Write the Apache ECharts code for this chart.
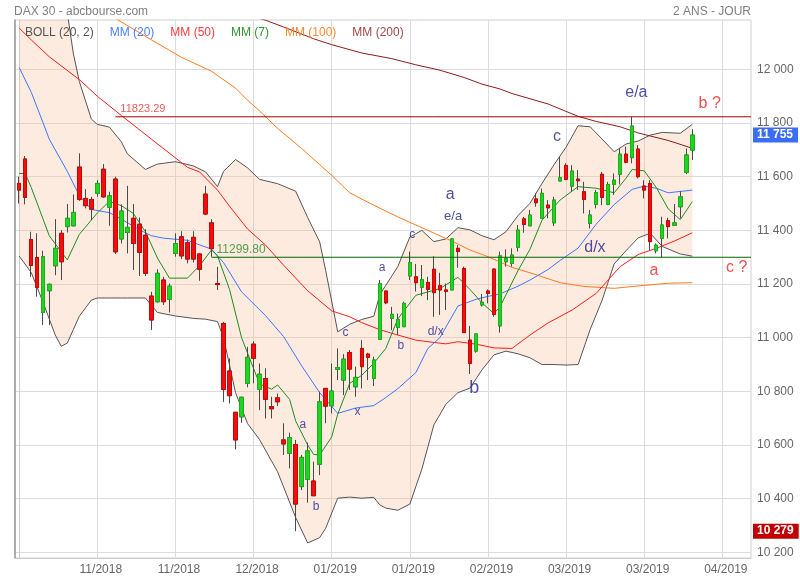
<!DOCTYPE html>
<html><head><meta charset="utf-8">
<script src="https://cdn.jsdelivr.net/npm/echarts@6/dist/echarts.min.js"></script>
<style>html,body{margin:0;padding:0;background:#fff}#c{width:800px;height:580px}</style>
</head><body><div id="c"></div>
<script>
// ---------- DATA ----------
// daily candles, index 0 = first visible session
const opens = [11575,11666,11366,11299,11094,11175,11268,11389,11414,11417,
11636,11519,11515,11538,11628,11486,11591,11368,11392,11445,
11423,11382,11155,11134,11215,11143,11314,11376,11354,11374,
11312,11535,11428,11202,11053,10876,10722,10705,10830,10976,
10807,10848,10743,10776,10619,10569,10602,10445,10472,10466,
10528,10811,10746,10882,10842,10945,10817,10960,10939,10848,
10994,11174,11072,11038,11041,11230,11227,11188,11206,11255,
11194,11178,11178,11333,11258,10991,10950,11122,11174,11256,
11044,11283,11277,11337,11443,11417,11517,11445,11494,11428,
11584,11642,11565,11591,11544,11426,11497,11609,11497,11571,
11609,11684,11671,11703,11565,11575,11324,11370,11436,11419,
11488,11616,11699];
const closes = [11550,11523,11269,11187,11302,11199,11333,11283,11445,11467,
11515,11492,11479,11575,11525,11529,11320,11472,11411,11351,
11318,11240,11066,11240,11134,11192,11351,11305,11293,11293,
11255,11461,11332,11198,10807,10784,10619,10778,10927,10923,
10864,10770,10735,10761,10604,10628,10380,10554,10578,10411,
10761,10745,10801,10889,10920,10883,10852,10892,10927,10917,
11202,11130,11087,11068,11128,11280,11205,11217,11180,11168,
11178,11172,11368,11321,11019,10904,11014,11132,11165,11087,
11305,11296,11308,11401,11422,11457,11503,11538,11484,11513,
11597,11590,11621,11585,11515,11457,11541,11523,11571,11587,
11684,11654,11789,11600,11550,11358,11345,11420,11414,11428,
11525,11681,11755];
const highs = [11600,11677,11395,11389,11324,11202,11442,11401,11498,11534,
11687,11554,11525,11587,11647,11544,11600,11497,11566,11498,
11448,11404,11171,11255,11227,11202,11389,11397,11366,11397,
11314,11566,11442,11264,11059,10923,10722,10780,10966,10987,
10904,10886,10780,10792,10681,10646,10619,10563,10609,10538,
10799,10811,10904,10960,10939,10954,10892,10991,10944,10929,
11215,11174,11115,11090,11134,11321,11275,11271,11227,11304,
11242,11202,11370,11345,11265,11044,11014,11163,11180,11256,
11321,11329,11333,11420,11450,11476,11538,11556,11513,11525,
11674,11650,11643,11625,11581,11476,11550,11618,11581,11612,
11705,11712,11823.29,11718,11587,11587,11351,11451,11447,11498,
11546,11705,11777];
const lows = [11500,11497,11227,11153,11047,11047,11233,11215,11392,11415,
11510,11482,11438,11525,11522,11417,11312,11351,11314,11252,
11230,11230,11029,11131,11122,11094,11302,11293,11277,11280,
11212,11457,11302,11178,10761,10755,10584,10683,10815,10830,
10730,10699,10699,10745,10563,10513,10279,10432,10385,10411,
10488,10681,10718,10842,10786,10805,10780,10811,10842,10820,
10994,11125,11028,11010,11041,11215,11172,11155,11140,11078,
11085,11103,11178,11261,11019,10865,10944,11116,11128,11078,
11019,11265,11265,11321,11391,11417,11488,11445,11445,11416,
11584,11587,11544,11550,11463,11407,11482,11494,11494,11532,
11571,11650,11650,11594,11519,11327,11314,11299,11370,11416,
11445,11610,11662];

// Bollinger (20,2) read at these session indices
const bandIdx = [0,2,4,6,7,8,9,10,12,13,15,17,18,21,23,26,29,31,33,34,36,38,40,43,46,48,50,51,53,55,57,59,60,61,63,65,67,69,71,73,75,77,79,81,83,85,87,89,91,93,95,97,99,101,103,105,107,110,112];
const bollUp = [12650,12620,12580,12460,12340,12212,12060,11955,11815,11795,11785,11730,11685,11627,11647,11656,11640,11618,11563,11620,11664,11633,11590,11574,11546,11448,11357,11250,11022,11050,11068,11080,11160,11195,11265,11375,11400,11358,11368,11410,11402,11380,11365,11395,11455,11501,11575,11645,11710,11790,11786,11740,11693,11722,11733,11755,11765,11762,11795];
const bollLow = [11304,11243,11130,11010,10968,10980,11030,11080,11140,11148,11148,11148,11148,11148,11094,11081,11072,11069,11060,11000,10795,10680,10620,10500,10330,10235,10255,10290,10402,10406,10402,10405,10377,10365,10357,10380,10510,10675,10752,10795,10812,10880,10936,10950,10940,10925,10900,10900,10898,10900,11030,11140,11275,11325,11372,11389,11340,11312,11304];

// moving averages read at these session indices
const ma20Idx = [0,2,4,5,8,10,12,15,17,20,22,24,28,30,32,34,37,41,44,47,50,53,56,59,61,63,66,68,70,73,76,78,80,83,85,88,90,93,96,99,102,104,106,108,112];
const ma20Val = [12007,11915,11799,11740,11620,11530,11478,11466,11442,11402,11380,11371,11363,11346,11330,11280,11171,11082,11004,10895,10795,10718,10738,10747,10777,10810,10870,10960,11000,11118,11143,11154,11163,11192,11215,11254,11288,11334,11423,11496,11553,11565,11557,11540,11550];
const ma7Idx = [0,1,2,4,5,8,10,13,15,17,19,21,23,25,28,30,32,33,35,37,40,42,43,45,46,48,49,50,52,53,55,57,59,61,63,66,70,73,75,77,79,80,81,83,85,87,90,93,96,99,101,102,104,106,108,110,112];
const ma7Val = [11612,11612,11560,11440,11380,11290,11385,11465,11508,11492,11463,11395,11297,11222,11222,11268,11327,11305,11180,11000,10828,10808,10824,10770,10690,10600,10565,10563,10630,10715,10830,10860,10905,10960,11070,11158,11183,11225,11180,11130,11090,11115,11160,11250,11330,11438,11513,11563,11557,11540,11595,11627,11622,11560,11480,11440,11507];
const ma50Idx = [0,2,5,10,13,17,22,28,30,33,35,38,41,44,48,52,55,57,60,63,66,68,71,73,76,79,82,85,88,92,96,100,103,106,109,112];
const ma50Val = [12154,12110,12047,11962,11900,11828,11740,11635,11618,11550,11490,11405,11345,11270,11175,11100,11078,11056,11030,11010,10991,10985,10977,10985,10976,10962,10960,11010,11055,11103,11165,11265,11310,11333,11360,11391];
const ma100Idx = [0,10,16,22,27,32,36,38,40,43,47,52,55,58,63,68,72,75,78,82,85,90,94,99,103,108,112];
const ma100Val = [12430,12280,12190,12110,12045,11993,11930,11885,11845,11780,11705,11605,11540,11505,11450,11400,11360,11327,11302,11262,11242,11205,11191,11184,11193,11203,11205];
const ma200Idx = [0,30,41,44,49,52,57,62,66,70,74,77,80,82,88,93,96,100,103,108,112];
const ma200Val = [12470,12260,12183,12158,12114,12092,12061,12040,12017,11997,11970,11945,11927,11910,11871,11825,11806,11786,11763,11735,11706];

// horizontal levels
const resistance = 11823.29, resistanceFrom = 16;
const support = 11299.80, supportFrom = 32;

// axis ticks
const xTickIdx = [13,26,39,52,65,78,91,104,117];
const xTickLabels = ['11/2018','11/2018','12/2018','01/2019','01/2019','02/2019','03/2019','03/2019','04/2019'];
const yTicks = [10200,10400,10600,10800,11000,11200,11400,11600,11800,12000];

// wave annotations
const annoText = ['a','b','c','x','a','b','c','d/x','e/a','a','b','c','d/x','e/a','b ?','a','c ?'];
const annoIdx  = [47.2,49.4,54.3,56.3,60.4,63.5,65.4,69.3,72.2,71.7,75.7,89.5,95.8,102.7,114.9,105.6,119.4];
const annoVal  = [10675,10369,11018,10723,11260,10969,11383,11021,11453,11532,10813,11748,11334,11913,11874,11249,11260];

// ---------- CHART ----------
const xMin = -0.7, xMax = 121.77, yMin = 10179, yMax = 12184;
const FONT = "'Liberation Sans', Arial, sans-serif";
const fmt = v => String(Math.round(v)).replace(/\B(?=(\d{3})+(?!\d))/g, ' ');
const n = opens.length;
const lastClose = closes[n - 1];
const minLow = Math.min.apply(null, lows);

const wickData = opens.map((o, i) => [i, o, closes[i], lows[i], highs[i]]);
const bodyData = opens.map((o, i) => [i, o, closes[i], Math.min(o, closes[i]), Math.max(o, closes[i])]);
const pair = (idx, val) => idx.map((x, k) => [x, val[k]]);

const annoStyles = ['s','s','s','s','s','s','s','s','m','L','XL','L','L','L','R','R','R'];
const styleMap = {
  s: {color: '#23238e', fontSize: 12},
  m: {color: '#23238e', fontSize: 13},
  L: {color: '#23238e', fontSize: 16},
  XL: {color: '#23238e', fontSize: 18},
  R: {color: '#ee2222', fontSize: 16}
};

const lineSeries = (name, idx, val, color, z) => ({
  name, type: 'line', data: pair(idx, val), symbol: 'none', z: z || 3,
  lineStyle: {color, width: 1}, itemStyle: {color}, silent: true, animation: false, clip: true
});

// horizontal level: a two-point line plus its value label at the start
const levelLine = (name, value, from, lineColor) => ({
  name, type: 'line', data: [[from, value], [xMax, value]], symbol: 'none', z: 6,
  lineStyle: {color: lineColor, width: 1}, itemStyle: {color: lineColor}, silent: true, clip: false
});
const levelLabel = (name, value, from, textColor, size) => ({
  name, type: 'scatter', symbolSize: 0, z: 7, silent: true, clip: false,
  data: [{value: [from, value], label: {show: true, position: 'top', align: 'left', distance: 2, offset: [5, 0],
    formatter: value.toFixed(2), color: textColor, fontSize: size, fontFamily: FONT}}]
});

const option = {
  animation: false,
  textStyle: {fontFamily: FONT},
  title: [
    {text: 'DAX 30 - abcbourse.com', left: 9, top: 1, textStyle: {fontSize: 12, color: '#808080', fontWeight: 'normal', fontFamily: FONT}},
    {text: '2 ANS - JOUR', right: 44, top: 1, textStyle: {fontSize: 12, color: '#808080', fontWeight: 'normal', fontFamily: FONT}}
  ],
  legend: {
    left: 14, top: 22, itemWidth: 0, itemHeight: 0, itemGap: 10, selectedMode: false,
    textStyle: {fontSize: 12, fontFamily: FONT},
    data: [
      {name: 'BOLL (20, 2)', textStyle: {color: '#555'}},
      {name: 'MM (20)', textStyle: {color: '#4a7dff'}},
      {name: 'MM (50)', textStyle: {color: '#ff3a3a'}},
      {name: 'MM (7)', textStyle: {color: '#2e962e'}},
      {name: 'MM (100)', textStyle: {color: '#ff8a30'}},
      {name: 'MM (200)', textStyle: {color: '#a04848'}}
    ]
  },
  grid: {left: 15, right: 49, top: 20, bottom: 22, show: true, borderColor: '#d0d0d0', borderWidth: 1},
  xAxis: {
    type: 'value', min: xMin, max: xMax,
    axisLine: {show: true, lineStyle: {color: '#ccc'}},
    axisTick: {show: false, customValues: xTickIdx},
    axisLabel: {customValues: xTickIdx, color: '#666', fontSize: 12, margin: 6, padding: [0, 0, 0, 7],
      formatter: v => { const k = xTickIdx.indexOf(Math.round(v)); return k >= 0 ? xTickLabels[k] : ''; }},
    splitLine: {show: true, lineStyle: {color: '#dcdcdc', width: 1}}
  },
  yAxis: [{
    type: 'value', position: 'right', min: yMin, max: yMax, scale: true,
    axisLine: {show: true, lineStyle: {color: '#ccc'}},
    axisTick: {show: false, customValues: yTicks},
    axisLabel: {customValues: yTicks, color: '#666', fontSize: 12, margin: 6, formatter: fmt},
    splitLine: {show: true, lineStyle: {color: '#dcdcdc', width: 1}}
  }, {
    type: 'value', position: 'left', min: yMin, max: yMax, scale: true,
    axisLine: {show: true, lineStyle: {color: '#999', width: 1.5}},
    axisTick: {show: false}, axisLabel: {show: false}, splitLine: {show: false}
  }],
  series: [
    {
      name: 'bollFill', type: 'custom', clip: true, silent: true, z: 1,
      data: bandIdx.map((x, k) => [x, bollLow[k], bollUp[k]]),
      encode: {x: 0, y: [1, 2]},
      renderItem: (params, api) => {
        if (params.dataIndex !== 0) return null;
        const up = bandIdx.map((x, k) => api.coord([x, bollUp[k]]));
        const lo = bandIdx.map((x, k) => api.coord([x, bollLow[k]])).reverse();
        return {type: 'polygon', shape: {points: up.concat(lo)}, style: {fill: 'rgba(248,190,150,0.3)'}};
      }
    },
    lineSeries('BOLL (20, 2)', bandIdx, bollLow, '#555', 2),
    lineSeries('bollUp', bandIdx, bollUp, '#555', 2),
    lineSeries('MM (100)', ma100Idx, ma100Val, '#ff7a1f'),
    lineSeries('MM (200)', ma200Idx, ma200Val, '#8b1c1c'),
    lineSeries('MM (50)', ma50Idx, ma50Val, '#ff1a1a'),
    lineSeries('MM (20)', ma20Idx, ma20Val, '#3f74ff'),
    lineSeries('MM (7)', ma7Idx, ma7Val, '#1e8c1e'),
    levelLine('resistance', resistance, resistanceFrom, '#a80000'),
    levelLine('support', support, supportFrom, '#006a00'),
    levelLabel('resistanceLabel', resistance, resistanceFrom, '#e83030', 11),
    levelLabel('supportLabel', support, supportFrom, '#2a8a2a', 12),
    {
      name: 'wicks', type: 'candlestick', data: wickData, barWidth: 4, z: 4, silent: true,
      itemStyle: {color: 'rgba(0,0,0,0)', color0: 'rgba(0,0,0,0)', borderColor: '#4a4a4a', borderColor0: '#4a4a4a', borderWidth: 1}
    },
    {
      name: 'bodies', type: 'candlestick', data: bodyData, barWidth: 4, z: 5, silent: true,
      itemStyle: {color: '#22d422', color0: '#ee1010', borderColor: '#19b019', borderColor0: '#d00000', borderWidth: 1},
      markLine: {
        silent: true, symbol: ['none', 'none'], animation: false,
        lineStyle: {color: 'rgba(0,0,0,0)', width: 0},
        data: [
          {yAxis: lastClose,
            label: {show: true, position: 'end', distance: 2, formatter: fmt(lastClose), backgroundColor: '#3a6cf4',
              color: '#fff', fontWeight: 'bold', fontSize: 12, padding: [2, 5, 1, 4]}},
          {yAxis: minLow,
            label: {show: true, position: 'end', distance: 2, formatter: fmt(minLow), backgroundColor: '#c00000',
              color: '#fff', fontWeight: 'bold', fontSize: 12, padding: [2, 5, 1, 4]}}
        ]
      }
    },
    {
      name: 'waves', type: 'scatter', symbolSize: 0, z: 6, silent: true, clip: false,
      data: annoText.map((t, k) => ({
        value: [annoIdx[k], annoVal[k]],
        label: {show: true, position: 'inside', formatter: t, color: styleMap[annoStyles[k]].color,
          fontSize: styleMap[annoStyles[k]].fontSize, fontFamily: FONT}
      }))
    }
  ]
};
const chart = echarts.init(document.getElementById('c'));
chart.setOption(option);
</script></body></html>
